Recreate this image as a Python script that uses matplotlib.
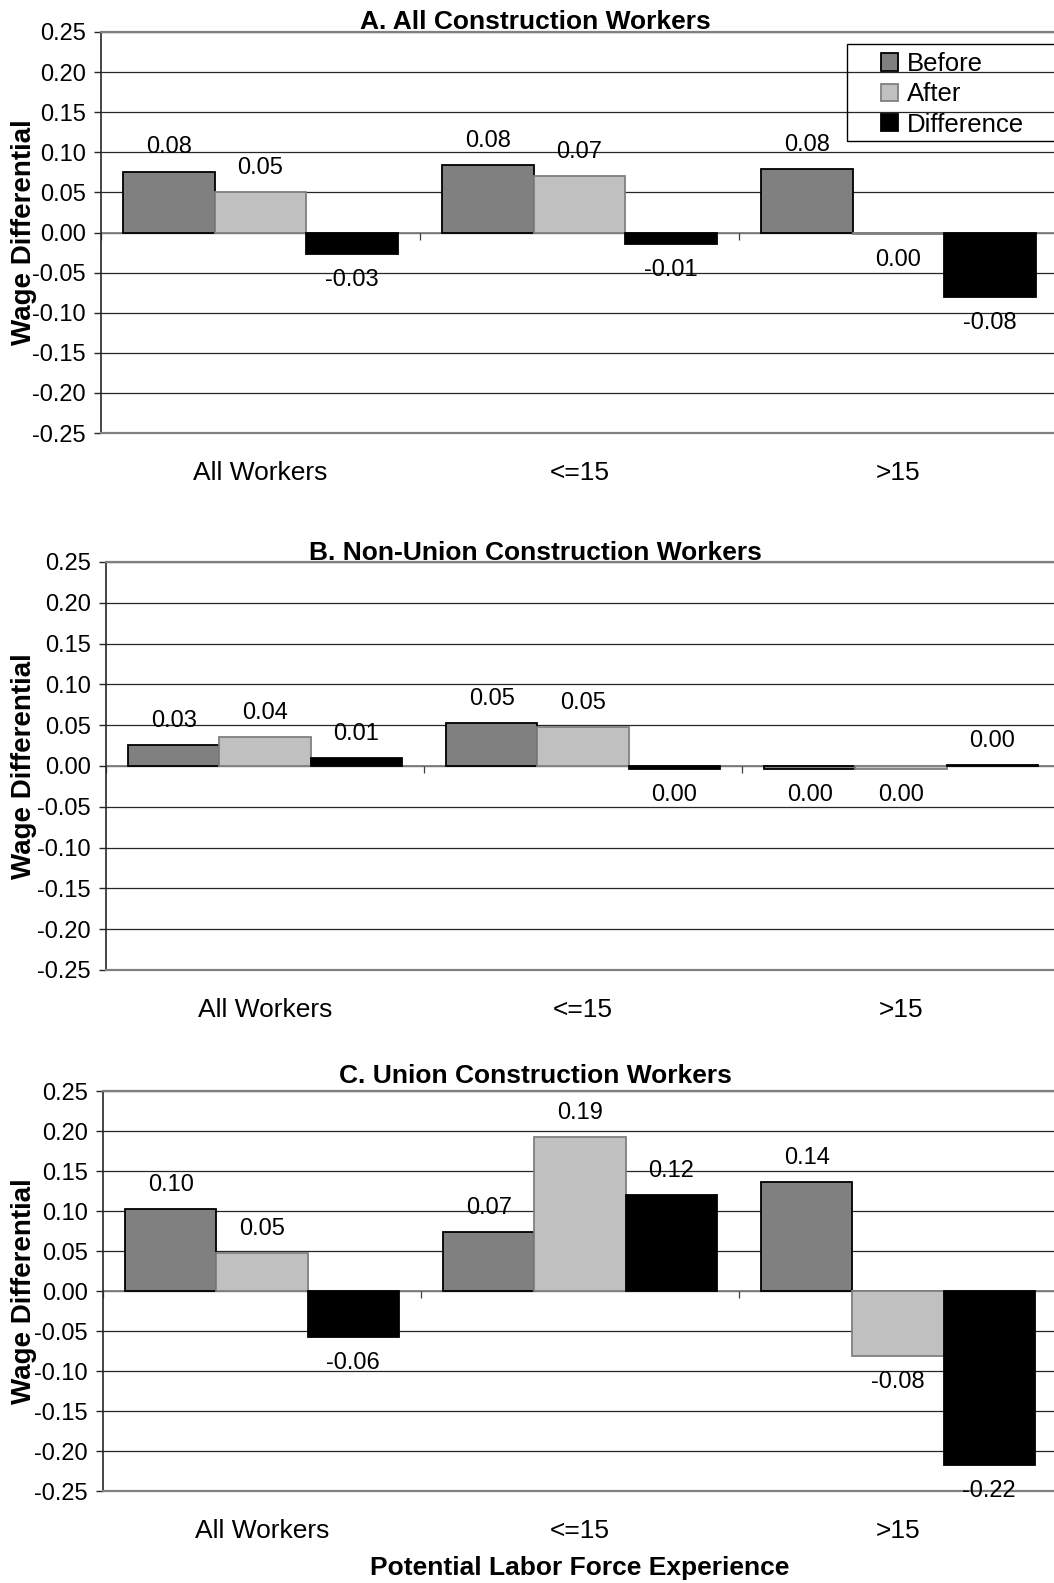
import numpy as np
import matplotlib.pyplot as plt
from matplotlib.patches import Rectangle

plt.rcParams['font.family'] = ['Liberation Sans', 'DejaVu Sans']

# data
groups = ['All Workers', '<=15', '>15']
series = ['Before', 'After', 'Difference']

a_before = [0.076, 0.084, 0.079]
a_after = [0.050, 0.071, -0.002]
a_diff = [-0.027, -0.014, -0.081]

b_before = [0.026, 0.053, -0.004]
b_after = [0.036, 0.048, -0.004]
b_diff = [0.010, -0.004, 0.001]

c_before = [0.103, 0.074, 0.136]
c_after = [0.047, 0.193, -0.081]
c_diff = [-0.057, 0.120, -0.217]

titles = ['A. All Construction Workers', 'B. Non-Union Construction Workers',
          'C. Union Construction Workers']
yticks = np.round(np.arange(-5, 6) * 0.05, 2)

face = ['#808080', '#c0c0c0', '#000000']
edge = ['#000000', '#808080', '#000000']

W, H = 1054, 1583
fig = plt.figure(figsize=(W / 100, H / 100), dpi=100)

# (left px, top px, bottom px, category width px, title baseline px)
layout = [(101, 32, 433, 319, 29),
          (106, 562, 970, 318, 560),
          (103, 1091, 1491, 318, 1083)]
data = [(a_before, a_after, a_diff), (b_before, b_after, b_diff),
        (c_before, c_after, c_diff)]


def fmt(v):
    s = f'{v:.2f}'
    return '0.00' if s == '-0.00' else s


axes = []
for (l, t, b, cw, tb), vals, title in zip(layout, data, titles):
    ax = fig.add_axes([l / W, 1 - b / H, 3 * cw / W, (b - t) / H])
    axes.append(ax)
    x = np.arange(len(groups))
    bw = 0.287
    for k, v in enumerate(vals):
        ax.bar(x + (k - 1) * bw, v, bw, color=face[k], edgecolor=edge[k],
               linewidth=1.3, zorder=3, label=series[k])
        for xi, vi in zip(x, v):
            if vi >= 0:
                off = 13
            else:
                off = -23
            ax.annotate(fmt(vi), (xi + (k - 1) * bw, vi), xytext=(0, off),
                        textcoords='offset points', ha='center', va='baseline',
                        fontsize=17, zorder=5)

    ax.set_xlim(-0.5, 2.5)
    ax.set_ylim(-0.25, 0.25)
    ax.set_yticks(yticks, [f'{t:.2f}' for t in yticks])
    ax.yaxis.grid(True, color='#262626', linewidth=0.9)
    ax.set_axisbelow(True)
    ax.axhline(0, color='#808080', linewidth=1.3, zorder=2)
    ax.vlines([-0.5, 0.5, 1.5, 2.5], -0.009, 0, color='#404040', linewidth=0.9, zorder=2)

    ax.set_xticks(x, groups)
    ax.tick_params(axis='x', length=0, pad=20, labelsize=19)
    ax.tick_params(axis='y', length=5, width=1, pad=6, labelsize=17, color='#262626')

    ax.spines['right'].set_visible(False)
    ax.spines['left'].set_color('#262626')
    ax.spines['left'].set_linewidth(1.2)
    for s in ['top', 'bottom']:
        ax.spines[s].set_color('#808080')
        ax.spines[s].set_linewidth(1.6)

    fig.text(535 / W, 1 - tb / H, title, ha='center', va='baseline',
             fontsize=19, fontweight='bold')
    fig.text(24 / W, 1 - (t + b) / 2 / H, 'Wage Differential', rotation=90,
             ha='center', va='center', fontsize=20, fontweight='bold')

fig.text(580 / W, 1 - 1568 / H, 'Potential Labor Force Experience',
         ha='center', va='center', fontsize=19, fontweight='bold')

# legend in panel A
fig.patches.append(Rectangle((847 / W, 1 - 141 / H), 230 / W, 97 / H,
                             transform=fig.transFigure, fill=False,
                             edgecolor='black', linewidth=1))
h, lab = axes[0].get_legend_handles_labels()
axes[0].legend(h, lab, loc='upper left', bbox_to_anchor=(881 / W, 1 - 52 / H),
               bbox_transform=fig.transFigure, frameon=False, fontsize=18.5,
               borderpad=0, borderaxespad=0, handlelength=0.65,
               handleheight=0.65, handletextpad=0.35, labelspacing=0.25)

fig.savefig('out.png', dpi=100)
